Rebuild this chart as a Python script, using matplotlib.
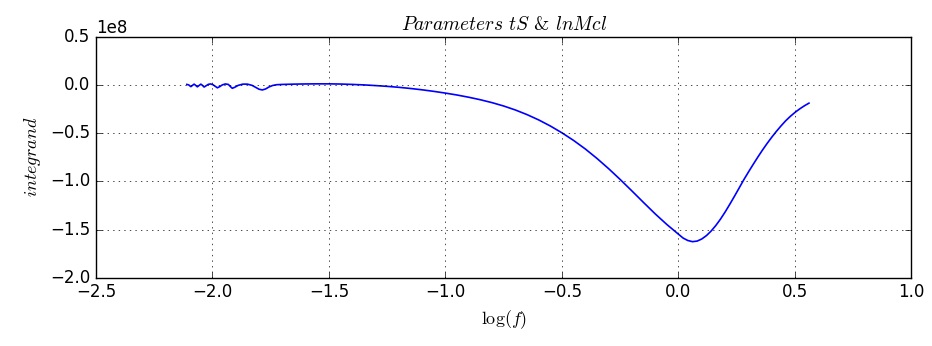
import matplotlib
matplotlib.use("Agg")
import matplotlib.pyplot as plt

plt.style.use("classic")
plt.rcParams["mathtext.fontset"] = "cm"

# log(f) values and integrand values (units of 1e8)
log_f = [-2.110, -2.102, -2.093, -2.086, -2.079, -2.072, -2.065, -2.057,
         -2.050, -2.043, -2.036, -2.027, -2.018, -2.008, -1.998, -1.988,
         -1.979, -1.969, -1.958, -1.945, -1.932, -1.922, -1.915, -1.905,
         -1.890, -1.870, -1.850, -1.830, -1.815, -1.800, -1.786, -1.772,
         -1.758, -1.742, -1.725, -1.700, -1.650, -1.600, -1.550, -1.500,
         -1.450, -1.400, -1.350, -1.300, -1.250, -1.200, -1.150, -1.100,
         -1.050, -1.000, -0.950, -0.900, -0.850, -0.800, -0.750, -0.700,
         -0.650, -0.600, -0.550, -0.500, -0.450, -0.400, -0.350, -0.300,
         -0.250, -0.200, -0.150, -0.100, -0.050, 0.000, 0.020, 0.040,
         0.060, 0.080, 0.100, 0.120, 0.140, 0.160, 0.180, 0.200,
         0.220, 0.240, 0.260, 0.280, 0.300, 0.320, 0.340, 0.360,
         0.380, 0.400, 0.420, 0.440, 0.460, 0.480, 0.500, 0.520,
         0.540, 0.560]
integrand = [0.005, 0.000, -0.018, -0.005, 0.008, -0.005, -0.020, -0.005,
             0.008, -0.005, -0.022, -0.008, 0.006, 0.010, 0.002, -0.015,
             -0.030, -0.018, 0.000, 0.010, 0.005, -0.020, -0.035, -0.025,
             -0.005, 0.008, 0.008, -0.005, -0.025, -0.045, -0.052, -0.042,
             -0.022, -0.006, 0.002, 0.005, 0.008, 0.010, 0.011, 0.011,
             0.009, 0.005, 0.000, -0.007, -0.015, -0.025, -0.037, -0.051,
             -0.067, -0.085, -0.105, -0.128, -0.154, -0.184, -0.219, -0.260,
             -0.308, -0.363, -0.426, -0.497, -0.576, -0.664, -0.762, -0.868,
             -0.981, -1.099, -1.219, -1.337, -1.447, -1.548, -1.588, -1.613,
             -1.625, -1.619, -1.597, -1.562, -1.515, -1.458, -1.392, -1.318,
             -1.238, -1.155, -1.070, -0.984, -0.904, -0.826, -0.750, -0.677,
             -0.608, -0.543, -0.482, -0.425, -0.372, -0.326, -0.285, -0.249,
             -0.217, -0.189]

fig = plt.figure(figsize=(9.32, 3.46), dpi=100, facecolor="white")
ax = fig.add_axes([0.103, 0.197, 0.875, 0.697])
ax.plot(log_f, [v * 1e8 for v in integrand], color="b", linewidth=1.2)

ax.set_xlim(-2.5, 1.0)
ax.set_ylim(-2.0e8, 0.5e8)
ax.set_xticks([-2.5, -2.0, -1.5, -1.0, -0.5, 0.0, 0.5, 1.0])
ax.set_yticks([-2.0e8, -1.5e8, -1.0e8, -0.5e8, 0.0, 0.5e8])
ax.grid(True)
ax.tick_params(labelsize=12)
ax.yaxis.get_offset_text().set_fontsize(12)

ax.set_title(r"$Parameters\ tS$ & $lnMcl$", fontsize=14,
             family=["cmr10", "DejaVu Serif"])
ax.set_xlabel(r"$\log(f)$", fontsize=13)
ax.set_ylabel(r"$integrand$", fontsize=13)

fig.savefig("out.png", dpi=100, facecolor="white")
